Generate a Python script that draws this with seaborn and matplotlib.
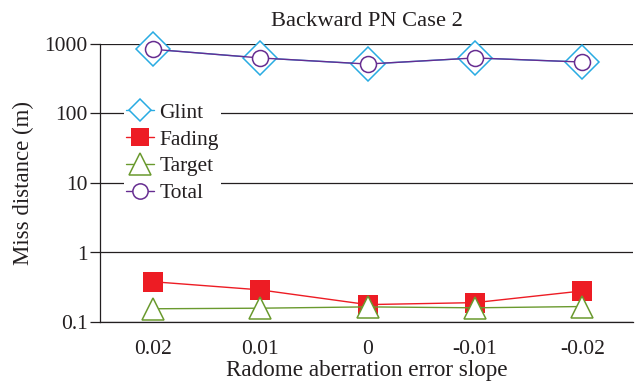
import matplotlib
matplotlib.use("Agg")
import matplotlib.pyplot as plt
from matplotlib.lines import Line2D
import seaborn as sns
import pandas as pd
import numpy as np

slopes = ["0.02", "0.01", "0", "-0.01", "-0.02"]
glint = [840, 630, 515, 630, 550]
fading = [0.38, 0.29, 0.178, 0.19, 0.28]
target = [0.155, 0.158, 0.165, 0.16, 0.167]
total = [840, 630, 515, 630, 550]

sns.set_theme(style="white")
plt.rcParams["font.family"] = ["Liberation Serif", "DejaVu Serif"]
plt.rcParams["text.color"] = "#231f20"
plt.rcParams["axes.labelcolor"] = "#231f20"
plt.rcParams["xtick.color"] = "#231f20"
plt.rcParams["ytick.color"] = "#231f20"

pos = np.arange(len(slopes))
df = pd.DataFrame({"pos": pos, "Glint": glint, "Fading": fading,
                   "Target": target, "Total": total})

fig = plt.figure(figsize=(6.35, 3.85), dpi=100)
ax = fig.add_axes([100/635, 1-322/385, 533/635, 278/385])

c_glint = "#29abe2"
c_fad = "#ed1c24"
c_tgt = "#6a9a2e"
c_tot = "#662d91"

sns.lineplot(data=df, x="pos", y="Glint", ax=ax, color=c_glint, lw=1.0,
             marker="D", ms=17.5, mfc="white", mec=c_glint, mew=1.1, zorder=3, clip_on=False)
sns.lineplot(data=df, x="pos", y="Fading", ax=ax, color=c_fad, lw=1.0,
             marker="s", ms=14.4, mfc=c_fad, mec=c_fad, mew=0, zorder=3, clip_on=False)
sns.lineplot(data=df, x="pos", y="Target", ax=ax, color=c_tgt, lw=1.0,
             marker="^", ms=16.5, mfc="white", mec=c_tgt, mew=1.1, zorder=4, clip_on=False)
sns.lineplot(data=df, x="pos", y="Total", ax=ax, color=c_tot, lw=1.0,
             marker="o", ms=11.5, mfc="white", mec=c_tot, mew=1.1, zorder=5, clip_on=False)

ax.set_yscale("log")
ax.set_ylim(0.1, 1000)
ax.set_xlim(-0.49, 4.47)
ax.set_yticks([0.1, 1, 10, 100, 1000])
ax.set_yticklabels(["0.1", "1", "10", "100", "1000"])
ax.minorticks_off()
ax.set_xticks(pos)
ax.set_xticklabels(slopes)
ax.tick_params(axis="y", length=7, width=0.9, direction="out", left=True, labelsize=15.5, pad=2)
ax.tick_params(axis="x", length=0, labelsize=15.5, pad=13)
ax.yaxis.grid(True, color="#231f20", lw=0.9)
ax.set_axisbelow(True)
for s in ["top", "right"]:
    ax.spines[s].set_visible(False)
for s in ["left", "bottom"]:
    ax.spines[s].set_color("#231f20")
    ax.spines[s].set_linewidth(0.9)
ax.set_xlabel("Radome aberration error slope", fontsize=16.7, labelpad=1)
ax.set_ylabel("Miss distance (m)", fontsize=16.5, labelpad=7)
ax.set_title("Backward PN Case 2", fontsize=16.2, pad=13)

handles = [
    Line2D([], [], color=c_glint, lw=1.0, marker="D", ms=11, mfc="white", mec=c_glint, mew=1.1),
    Line2D([], [], color=c_fad, lw=1.0, marker="s", ms=13, mfc=c_fad, mec=c_fad, mew=0),
    Line2D([], [], color=c_tgt, lw=1.0, marker="^", ms=16, mfc="white", mec=c_tgt, mew=1.1),
    Line2D([], [], color=c_tot, lw=1.0, marker="o", ms=11, mfc="white", mec=c_tot, mew=1.1),
]
leg = ax.legend(handles, ["Glint", "Fading", "Target", "Total"], loc="upper left",
                bbox_to_anchor=(0.045, 0.796), fontsize=15.5, frameon=True,
                facecolor="white", edgecolor="none", framealpha=1, fancybox=False,
                handlelength=1.3, handletextpad=0.25, labelspacing=0.31,
                borderpad=0.1, borderaxespad=0)
leg.set_zorder(6)

fig.savefig("out.png", dpi=100)
